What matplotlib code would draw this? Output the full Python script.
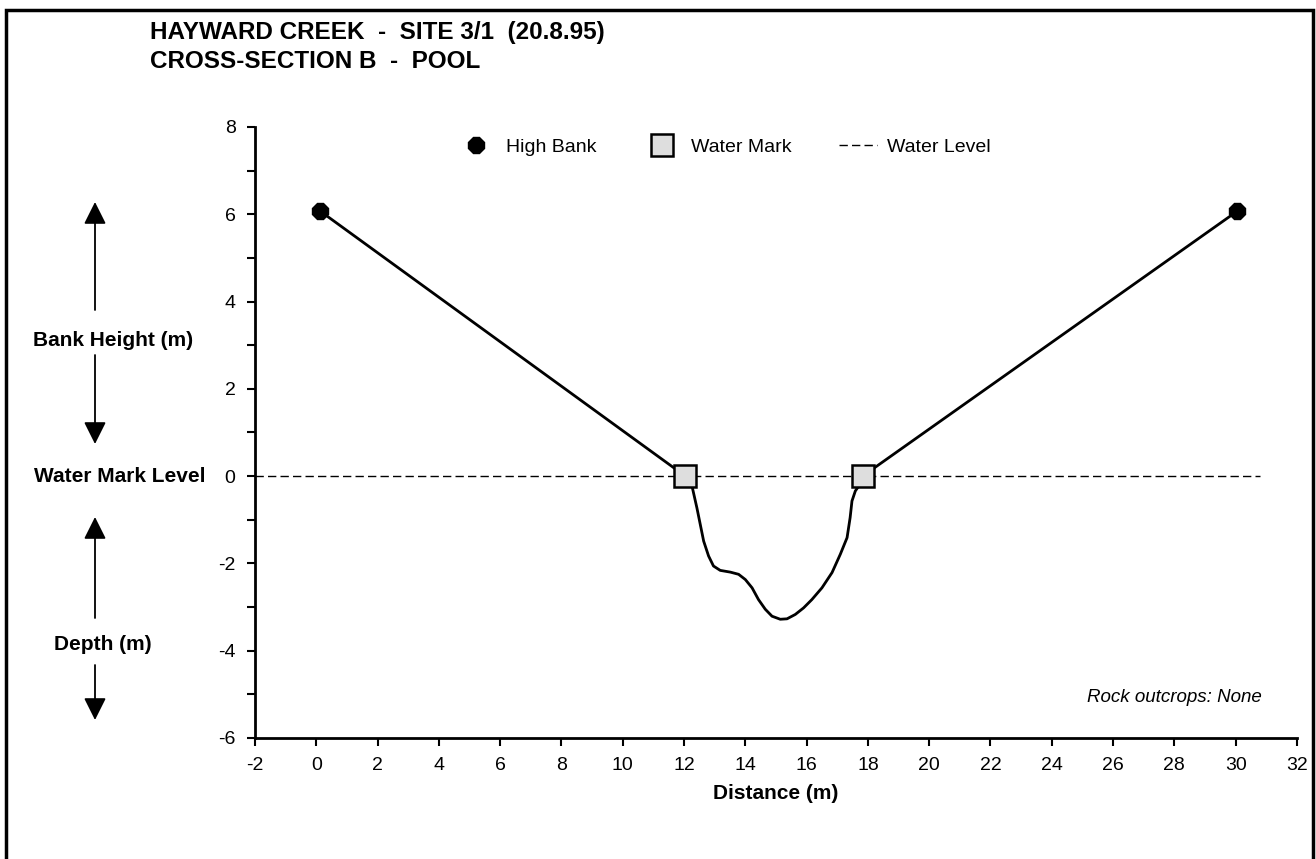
import matplotlib.pyplot as plt
from matplotlib.patches import Rectangle

plt.rcParams['font.family'] = ['Liberation Sans', 'DejaVu Sans']
plt.rcParams['axes.unicode_minus'] = False

# === data ===
bank_x = [0.13, 30.05]
bank_y = [6.07, 6.07]

mark_x = [12.04, 17.83]
mark_y = [0.0, 0.0]

# channel profile (left bank -> bed -> right bank)
profile_x = [0.13, 12.04, 12.26, 12.42, 12.53, 12.64, 12.80, 12.96, 13.18, 13.51,
             13.78, 14.00, 14.22, 14.43, 14.65, 14.87, 15.14, 15.36, 15.63, 15.90,
             16.17, 16.50, 16.83, 17.10, 17.32, 17.42, 17.48, 17.59, 17.70, 17.83,
             30.05]
profile_y = [6.07, 0.0, -0.23, -0.73, -1.11, -1.49, -1.83, -2.06, -2.16, -2.20,
             -2.25, -2.37, -2.56, -2.83, -3.05, -3.21, -3.28, -3.27, -3.17, -3.02,
             -2.83, -2.56, -2.21, -1.79, -1.41, -0.95, -0.57, -0.34, -0.23, 0.0,
             6.07]

water_x = [-2, 30.8]
water_y = [0, 0]

x_ticks = list(range(-2, 33, 2))
y_ticks = list(range(-6, 9, 2))

# === plot ===
fig = plt.figure(figsize=(13.16, 8.59), dpi=100)
ax = fig.add_axes([0.1938, 0.1409, 0.7917, 0.7113])

ax.plot(water_x, water_y, color='black', lw=1, ls=(0, (6, 3)), label='Water Level', zorder=2)
ax.plot(profile_x, profile_y, color='black', lw=2, zorder=3,
        solid_joinstyle='round', solid_capstyle='round')
ax.plot(bank_x, bank_y, ls='none', marker='8', ms=13, mfc='black', mec='black',
        label='High Bank', zorder=4)
ax.plot(mark_x, mark_y, ls='none', marker='s', ms=16, mfc='#dedede', mec='black',
        mew=1.8, label='Water Mark', zorder=5)

ax.set_xlim(-2, 32)
ax.set_ylim(-6, 8)
ax.set_xticks(x_ticks)
ax.set_yticks(y_ticks)
ax.set_yticks(range(-5, 8, 2), minor=True)
ax.tick_params(axis='both', which='both', direction='out', length=6, width=1.5,
               labelsize=14, pad=8)
for s in ['top', 'right']:
    ax.spines[s].set_visible(False)
for s in ['left', 'bottom']:
    ax.spines[s].set_linewidth(2)

ax.set_xlabel('Distance (m)', fontsize=15, fontweight='bold', labelpad=7)

h, l = ax.get_legend_handles_labels()
order = [1, 2, 0]
ax.legend([h[i] for i in order], [l[i] for i in order], ncol=3, frameon=False,
          loc='upper center', bbox_to_anchor=(0.45, 1.01), fontsize=14,
          columnspacing=2.4, handlelength=2.0, handletextpad=0.5)

ax.text(1262 / 1316, 1 - 698 / 859, 'Rock outcrops: None', transform=fig.transFigure,
        ha='right', va='center', fontsize=13.5, style='italic')

def px(x, y):
    return (x / 1316, 1 - y / 859)

# titles
fig.text(*px(150, 32), 'HAYWARD CREEK  -  SITE 3/1  (20.8.95)',
         fontsize=17.5, fontweight='bold', va='center')
fig.text(*px(150, 62), 'CROSS-SECTION B  -  POOL',
         fontsize=17.5, fontweight='bold', va='center')

# left side annotations
fig.text(*px(113, 340), 'Bank Height (m)', fontsize=15, fontweight='bold', ha='center', va='center')
fig.text(*px(120, 477), 'Water Mark Level', fontsize=15, fontweight='bold', ha='center', va='center')
fig.text(*px(103, 645), 'Depth (m)', fontsize=15, fontweight='bold', ha='center', va='center')

arrows = [((95, 310), (95, 202)), ((95, 355), (95, 444)),
          ((95, 618), (95, 517)), ((95, 665), (95, 720))]
for start, end in arrows:
    fig.add_artist(plt.Annotation('', xy=px(*end), xytext=px(*start),
                                  xycoords='figure fraction', textcoords='figure fraction',
                                  arrowprops=dict(arrowstyle='-|>', mutation_scale=34,
                                                  color='black', lw=1.3,
                                                  shrinkA=0, shrinkB=0)))

# outer frame
fig.add_artist(Rectangle(px(6, 870), (1313 - 6) / 1316, (870 - 10) / 859,
                         transform=fig.transFigure, fill=False, ec='black', lw=2.5))

fig.savefig('out.png', dpi=100)
